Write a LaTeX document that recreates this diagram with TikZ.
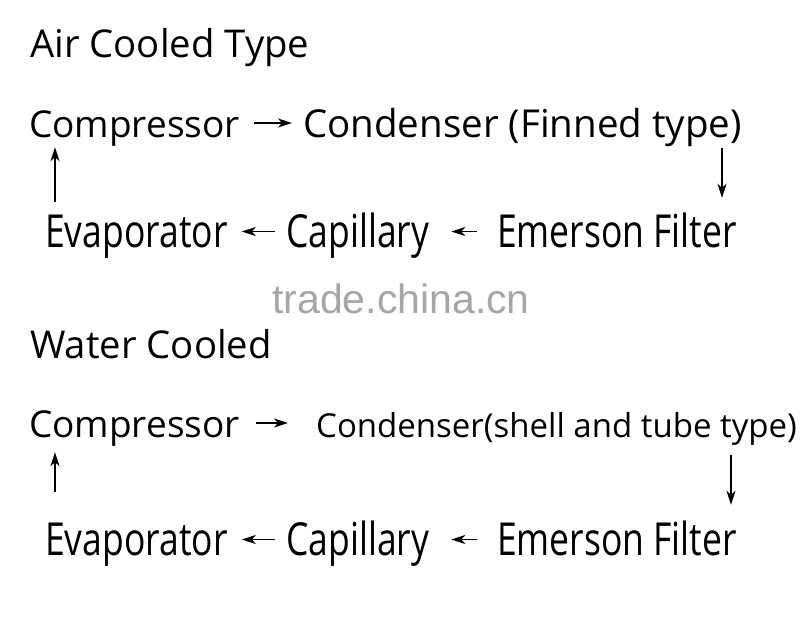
\documentclass[tikz,border=0pt]{standalone}
\usepackage{fontspec}
\setmainfont{Open Sans}
\newfontfamily\condfont[FakeStretch=0.78]{Open Sans}
\newfontfamily\markfont{Liberation Sans}
\usetikzlibrary{arrows.meta}
\tikzset{
  head/.style={anchor=base west, inner sep=0pt, font=\fontsize{38.3}{40}\selectfont},
  upper/.style={anchor=base west, inner sep=0pt, text height=30pt, text depth=2pt, font=\fontsize{37}{40}\selectfont},
  lower/.style={anchor=base west, inner sep=0pt, text height=33pt, text depth=2pt, font=\fontsize{45.5}{48}\condfont},
  flow/.style={line width=1.7pt, -{Stealth[length=14pt,width=9pt,inset=4pt]}}
}
\begin{document}
\begin{tikzpicture}[x=1pt, y=1pt]
  \useasboundingbox (0,0) rectangle (800,-626);
  % air cooled
  \node[head] (titleA) at (30,-58) {Air Cooled Type};
  \node[upper] (compA) at (29,-137) {Compressor};
  \node[upper, font=\fontsize{38.5}{40}\selectfont] (condA) at (303,-137) {Condenser (Finned type)};
  \node[lower] (evapA) at (45,-247) {Evaporator};
  \node[lower] (capA) at (286,-247) {Capillary};
  \node[lower] (filtA) at (497,-247) {Emerson Filter};
  \coordinate (upA) at (55,0);
  \coordinate (downA) at (722,0);
  \draw[flow, shorten <=14pt, shorten >=11pt] (compA.east) -- (compA.east -| condA.west);
  \draw[flow, shorten <=9pt, shorten >=16pt] (condA.south -| downA) -- (filtA.north -| downA);
  \draw[flow, shorten <=20pt, shorten >=22pt] (filtA.west) -- (filtA.west -| capA.east);
  \draw[flow, shorten <=11pt, shorten >=14pt] (capA.west) -- (capA.west -| evapA.east);
  \draw[flow, shorten <=12pt, shorten >=8pt] (evapA.north -| upA) -- (compA.south -| upA);
  % watermark
  \node[anchor=base west, inner sep=0pt, text=black!35, font=\fontsize{41}{44}\markfont] (mark) at (272,-313) {trade.china.cn};
  % water cooled
  \node[head] (titleB) at (30,-358) {Water Cooled};
  \node[upper] (compB) at (29,-437) {Compressor};
  \node[upper, font=\fontsize{33}{36}\selectfont] (condB) at (316,-437) {Condenser(shell and tube type)};
  \node[lower] (evapB) at (45,-555) {Evaporator};
  \node[lower] (capB) at (286,-555) {Capillary};
  \node[lower] (filtB) at (497,-555) {Emerson Filter};
  \coordinate (upB) at (55,0);
  \coordinate (downB) at (731,0);
  \draw[flow, shorten <=16pt, shorten >=28pt] (compB.east) -- (compB.east -| condB.west);
  \draw[flow, shorten <=16pt, shorten >=17pt] (condB.south -| downB) -- (filtB.north -| downB);
  \draw[flow, shorten <=20pt, shorten >=22pt] (filtB.west) -- (filtB.west -| capB.east);
  \draw[flow, shorten <=11pt, shorten >=14pt] (capB.west) -- (capB.west -| evapB.east);
  \draw[flow, shorten <=30pt, shorten >=13pt] (evapB.north -| upB) -- (compB.south -| upB);
\end{tikzpicture}
\end{document}
